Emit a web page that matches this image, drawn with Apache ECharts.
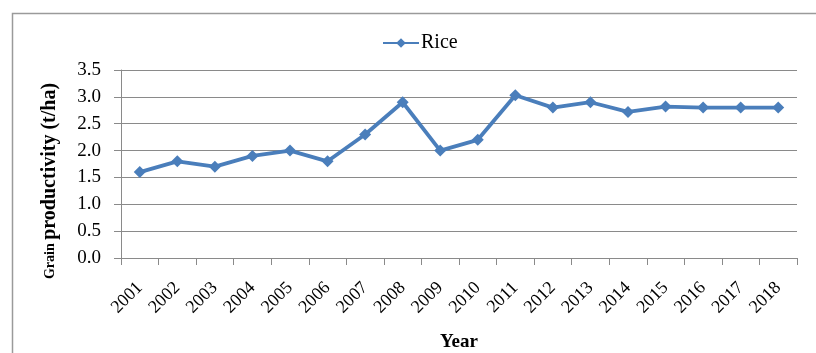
<!DOCTYPE html>
<html>
<head>
<meta charset="utf-8">
<script src="https://cdn.jsdelivr.net/npm/echarts@6/dist/echarts.min.js"></script>
<style>
  html, body { margin: 0; padding: 0; background: #fff; }
  #chart { width: 816px; height: 353px; }
</style>
</head>
<body>
<div id="chart"></div>
<script>
// Rice grain productivity by year (t/ha)
const years = ['2001', '2002', '2003', '2004', '2005', '2006', '2007', '2008', '2009',
  '2010', '2011', '2012', '2013', '2014', '2015', '2016', '2017', '2018'];
const rice = [1.6, 1.8, 1.7, 1.9, 2.0, 1.8, 2.3, 2.9, 2.0,
  2.2, 3.03, 2.8, 2.9, 2.72, 2.82, 2.8, 2.8, 2.8];
const yTicks = { min: 0, max: 3.5, interval: 0.5 };

const serif = '"Liberation Serif", "Times New Roman", serif';
const gridColor = '#8a8a8a';
const lineColor = '#4a7ebb';

const chart = echarts.init(document.getElementById('chart'), null, { renderer: 'canvas' });
chart.setOption({
  animation: false,
  backgroundColor: '#ffffff',
  grid: { left: 121, right: 19, top: 70, bottom: 95, containLabel: false, outerBoundsMode: 'none' },
  legend: {
    left: 377,
    top: 28,
    itemWidth: 36,
    itemHeight: 12,
    itemGap: 4,
    textStyle: { fontFamily: serif, fontSize: 20, color: '#000', padding: [0, 0, 0, -3] },
    data: ['Rice']
  },
  xAxis: {
    type: 'category',
    data: years,
    boundaryGap: true,
    name: 'Year',
    nameLocation: 'middle',
    nameGap: 75,
    nameTextStyle: { fontFamily: serif, fontSize: 19, fontWeight: 'bold', color: '#000' },
    axisLine: { lineStyle: { color: gridColor, width: 1 } },
    axisTick: { show: true, length: 7, inside: false, alignWithLabel: false, lineStyle: { color: gridColor } },
    axisLabel: {
      rotate: 45,
      margin: 27,
      interval: 0,
      fontFamily: serif,
      fontSize: 18,
      color: '#000'
    },
    splitLine: { show: false }
  },
  yAxis: {
    type: 'value',
    min: yTicks.min,
    max: yTicks.max,
    interval: yTicks.interval,
    axisLine: { show: true, lineStyle: { color: gridColor, width: 1 } },
    axisTick: { show: true, length: 7, lineStyle: { color: gridColor } },
    axisLabel: {
      margin: 20,
      fontFamily: serif,
      fontSize: 19,
      color: '#000',
      formatter: v => v.toFixed(1)
    },
    splitLine: { show: true, lineStyle: { color: gridColor, width: 1 } }
  },
  series: [{
    name: 'Rice',
    type: 'line',
    data: rice,
    symbol: 'diamond',
    symbolSize: 12,
    lineStyle: { color: lineColor, width: 3.8 },
    itemStyle: { color: lineColor },
    emphasis: { disabled: true }
  }],
  graphic: [
    {
      // outer frame of the chart area
      type: 'rect',
      left: 10,
      top: 11,
      shape: { x: 0, y: 0, width: 900, height: 500 },
      style: { fill: 'none', stroke: '#9a9a9a', lineWidth: 1.5 },
      silent: true
    },
    {
      // y-axis title with the two font sizes
      type: 'text',
      x: 50,
      y: 181,
      rotation: Math.PI / 2,
      style: {
        text: '{s|Grain }{b|productivity (t/ha)}',
        align: 'center',
        verticalAlign: 'middle',
        rich: {
          s: { fontFamily: serif, fontSize: 14, fontWeight: 'bold', fill: '#000' },
          b: { fontFamily: serif, fontSize: 20, fontWeight: 'bold', fill: '#000' }
        }
      },
      silent: true
    }
  ]
});
</script>
</body>
</html>
